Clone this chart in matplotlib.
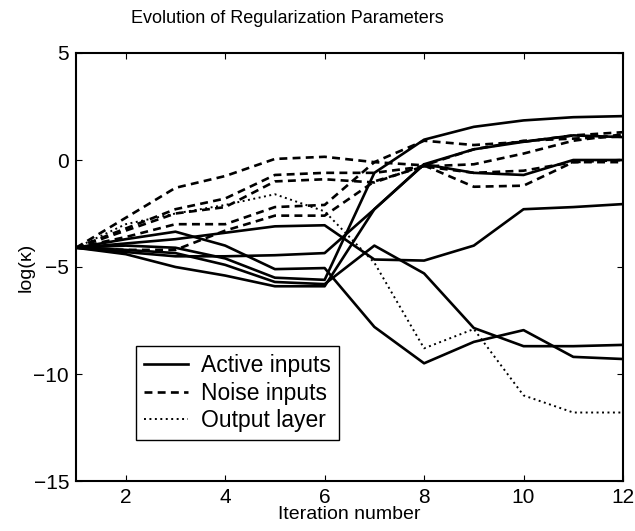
import matplotlib
matplotlib.use("Agg")
import matplotlib.pyplot as plt
import numpy as np

plt.rcParams['font.family'] = ['Liberation Sans', 'DejaVu Sans']

iters = np.arange(1, 13)

# active inputs (solid)
active = [
    [-4.1, -4.0, -4.1, -4.6, -5.5, -5.6, -0.6, 0.95, 1.55, 1.85, 2.0, 2.05],
    [-4.1, -4.4, -5.0, -5.4, -5.9, -5.9, -2.3, -0.2, 0.5, 0.85, 1.15, 1.07],
    [-4.1, -4.3, -4.5, -4.5, -4.45, -4.35, -2.3, -0.2, -0.6, -0.7, 0.0, 0.0],
    [-4.1, -3.9, -3.7, -3.4, -3.1, -3.05, -4.65, -4.7, -4.0, -2.3, -2.2, -2.06],
    [-4.1, -4.2, -4.35, -4.9, -5.7, -5.8, -4.0, -5.3, -7.85, -8.7, -8.7, -8.64],
    [-4.1, -3.7, -3.35, -4.0, -5.1, -5.05, -7.8, -9.5, -8.5, -7.95, -9.2, -9.3],
]

# noise inputs (dashed)
noise = [
    [-4.1, -2.7, -1.3, -0.75, 0.05, 0.15, -0.1, -0.25, -1.25, -1.2, -0.1, 0.0],
    [-4.1, -3.2, -2.3, -1.8, -0.7, -0.6, -0.6, -0.3, -0.2, 0.3, 0.9, 1.2],
    [-4.1, -3.3, -2.5, -2.2, -1.0, -0.9, -1.05, -0.25, 0.5, 0.9, 1.0, 1.1],
    [-4.1, -3.6, -3.0, -3.0, -2.2, -2.1, -0.1, 0.9, 0.7, 0.85, 1.15, 1.3],
    [-4.1, -4.2, -4.2, -3.3, -2.6, -2.6, -1.0, -0.3, -0.6, -0.5, -0.1, -0.1],
]

# output layer (dotted)
output = [-4.1, -3.0, -2.5, -2.1, -1.6, -2.4, -4.8, -8.8, -7.9, -11.0, -11.8, -11.8]

fig = plt.figure(figsize=(6.35, 5.31), dpi=100)
ax = fig.add_axes([76 / 635, 50 / 531, 547 / 635, 428 / 531])

for i, s in enumerate(active):
    ax.plot(iters, s, 'k-', lw=1.9, label='Active inputs' if i == 0 else None)
for i, s in enumerate(noise):
    ax.plot(iters, s, 'k--', lw=1.9, dashes=(3, 2), label='Noise inputs' if i == 0 else None)
ax.plot(iters, output, 'k:', lw=1.4, dashes=(1, 1.8), label='Output layer')

ax.set_xlim(1, 12)
ax.set_ylim(-15, 5)
ax.set_xticks([2, 4, 6, 8, 10, 12])
ax.set_yticks([-15, -10, -5, 0, 5])
ax.set_yticklabels(['\u221215', '\u221210', '\u22125', '0', '5'])
ax.tick_params(direction='in', labelsize=15, length=4, top=True, right=True, pad=5)
fig.text(0.452, 0.965, 'Evolution of Regularization Parameters', fontsize=13,
         ha='center', va='center')
ax.set_xlabel('Iteration number', fontsize=14, labelpad=-1)
ax.set_ylabel('log(\u03ba)', fontsize=14)
ax.yaxis.set_label_coords(-0.075, 0.5)
for sp in ax.spines.values():
    sp.set_linewidth(1.5)

leg = ax.legend(loc='lower left', bbox_to_anchor=(0.11, 0.095), fontsize=16.5,
                fancybox=False, edgecolor='k', framealpha=1, handlelength=1.9,
                handletextpad=0.6, borderpad=0.35, labelspacing=0.2,
                borderaxespad=0)
leg.get_frame().set_linewidth(1.0)

fig.savefig('out.png', dpi=100)
